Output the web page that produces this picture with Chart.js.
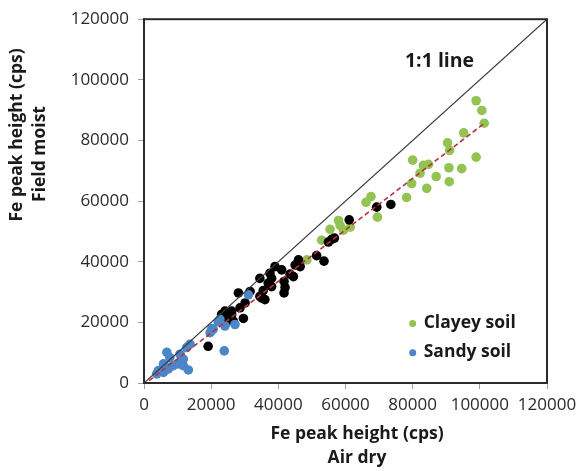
<!DOCTYPE html>
<html>
<head>
<meta charset="utf-8">
<script src="https://cdn.jsdelivr.net/npm/chart.js@4"></script>
<style>
  html, body { margin: 0; padding: 0; background: #fff; }
  #wrap { width: 584px; height: 471px; }
</style>
</head>
<body>
<div id="wrap"><canvas id="feChart" width="584" height="471"></canvas></div>
<script>
// values (cps)
const clayeyX = [98900, 100600, 101300, 95200, 90400, 91000, 80000, 98900, 83200, 84700, 82200, 90800, 94600, 87000,
                 79700, 90900, 84200, 78200, 67600, 66100, 69500, 57900, 58400, 59400, 55400, 61400, 52900, 48500];
const clayeyY = [93100, 89900, 85700, 82500, 79200, 76700, 73500, 74500, 71800, 72100, 69200, 71000, 70700, 68100,
                 65800, 66400, 64200, 61200, 61500, 59600, 54700, 53600, 52000, 50400, 50700, 51400, 47100, 40600];

const otherX = [73500, 69300, 61100, 55900, 56700, 54900, 51400, 53600, 46000, 46500, 45000, 43500, 41000, 39000,
                37500, 38000, 34500, 41700, 42000, 41700, 37000, 38000, 35500, 36000, 28100, 30100, 31600, 34500,
                35100, 26100, 26600, 29600, 24100, 25100, 26100, 23100, 24100, 28600, 19100, 44500];
const otherY = [58900, 58000, 53800, 47400, 47800, 46500, 42000, 40200, 40600, 38400, 38900, 35900, 37300, 38400,
                36200, 34500, 34500, 33500, 31500, 29700, 32900, 31800, 30500, 27500, 29700, 26400, 30200, 28600,
                28000, 23700, 20400, 21300, 19300, 21000, 22600, 22600, 23700, 24800, 12100, 35100];

const sandyX = [31100, 23900, 27100, 24100, 22100, 20200, 20600, 22600, 19700, 6800, 7700, 10700, 12700, 13700,
                11700, 5800, 7200, 8700, 10200, 4300, 5800, 7200, 11700, 13200, 3800];
const sandyY = [29100, 10600, 19300, 18800, 20200, 18000, 17700, 21000, 16600, 10100, 8400, 9500, 11700, 12800,
                7900, 6300, 5200, 5700, 6300, 4100, 3500, 4600, 5700, 4300, 3000];

const trendX = [1500, 101300];
const trendY = [800, 85600];
const lineX = [0, 120000];
const lineY = [0, 120000];

const axisMin = 0, axisMax = 120000, axisStep = 20000;

const GREEN = '#92c353';
const BLUE = '#4a86c8';
const FONT = "'Open Sans', sans-serif";

const toPoints = (xs, ys) => xs.map((x, i) => ({ x: x, y: ys[i] }));

// frame, 1:1 label, legend and axis titles
const decorPlugin = {
    id: 'decor',
    afterDatasetsDraw(chart) {
        const { ctx, chartArea: a, scales } = chart;
        ctx.save();
        ctx.strokeStyle = '#2b2b2b';
        ctx.lineWidth = 2;
        ctx.strokeRect(a.left, a.top, a.right - a.left, a.bottom - a.top);

        ctx.fillStyle = '#1a1a1a';
        ctx.font = "bold 19.5px " + FONT;
        ctx.textAlign = 'center';
        ctx.textBaseline = 'middle';
        ctx.fillText('1:1 line', scales.x.getPixelForValue(88000), scales.y.getPixelForValue(106000));

        // legend (only the two named series)
        const items = [chart.data.datasets[2], chart.data.datasets[4]];
        const ly = [scales.y.getPixelForValue(19600), scales.y.getPixelForValue(10000)];
        const lx = scales.x.getPixelForValue(80000);
        ctx.font = "bold 17.5px " + FONT;
        ctx.textAlign = 'left';
        items.forEach((ds, i) => {
            ctx.beginPath();
            ctx.fillStyle = ds.backgroundColor;
            ctx.arc(lx, ly[i], 3.5, 0, Math.PI * 2);
            ctx.fill();
            ctx.fillStyle = '#1a1a1a';
            ctx.fillText(ds.label, lx + 11, ly[i] - 1);
        });

        // axis titles
        ctx.font = "bold 17.5px " + FONT;
        const cx = 357;
        ctx.textAlign = 'center';
        ctx.fillText('Fe peak height (cps)', cx, 434);
        ctx.fillText('Air dry', cx, 458);

        ctx.translate(17, 135);
        ctx.rotate(-Math.PI / 2);
        ctx.fillText('Fe peak height (cps)', 0, 0);
        ctx.restore();

        ctx.save();
        ctx.fillStyle = '#1a1a1a';
        ctx.font = "bold 17.5px " + FONT;
        ctx.textAlign = 'center';
        ctx.textBaseline = 'middle';
        ctx.translate(40, 154);
        ctx.rotate(-Math.PI / 2);
        ctx.fillText('Field moist', 0, 0);
        ctx.restore();
    }
};

const axisOpts = (fit) => ({
    type: 'linear',
    min: axisMin,
    max: axisMax,
    ticks: {
        stepSize: axisStep,
        color: '#2a2a2a',
        font: { family: FONT, size: 17 },
        padding: 6,
        callback: v => String(v)
    },
    grid: { drawOnChartArea: false, drawTicks: true, tickLength: 6, color: '#a0a0a0' },
    border: { display: true, color: '#2b2b2b', width: 2 },
    afterFit: fit
});

const xAxis = axisOpts(scale => { scale.height = 88; });
const yAxis = axisOpts(scale => { scale.width = 144; });
yAxis.ticks.padding = 9;

new Chart(document.getElementById('feChart'), {
    type: 'scatter',
    data: {
        datasets: [
            {
                label: 'Trend',
                type: 'line',
                data: toPoints(trendX, trendY),
                borderColor: '#b8323c',
                borderWidth: 1.6,
                borderDash: [5, 3],
                pointRadius: 0,
                order: 0
            },
            {
                label: '1:1 line',
                type: 'line',
                data: toPoints(lineX, lineY),
                borderColor: '#3a3a3a',
                borderWidth: 1.2,
                pointRadius: 0,
                order: 0
            },
            {
                label: 'Clayey soil',
                data: toPoints(clayeyX, clayeyY),
                backgroundColor: GREEN,
                borderWidth: 0,
                pointRadius: 4.8,
                order: 3
            },
            {
                label: 'Other',
                data: toPoints(otherX, otherY),
                backgroundColor: '#000000',
                borderWidth: 0,
                pointRadius: 4.8,
                order: 2
            },
            {
                label: 'Sandy soil',
                data: toPoints(sandyX, sandyY),
                backgroundColor: BLUE,
                borderWidth: 0,
                pointRadius: 4.8,
                order: 1
            }
        ]
    },
    options: {
        responsive: false,
        animation: false,
        layout: { padding: { left: 0, top: 15, right: 37, bottom: 0 } },
        plugins: {
            legend: { display: false },
            tooltip: { enabled: false }
        },
        scales: { x: xAxis, y: yAxis }
    },
    plugins: [decorPlugin]
});
</script>
</body>
</html>
